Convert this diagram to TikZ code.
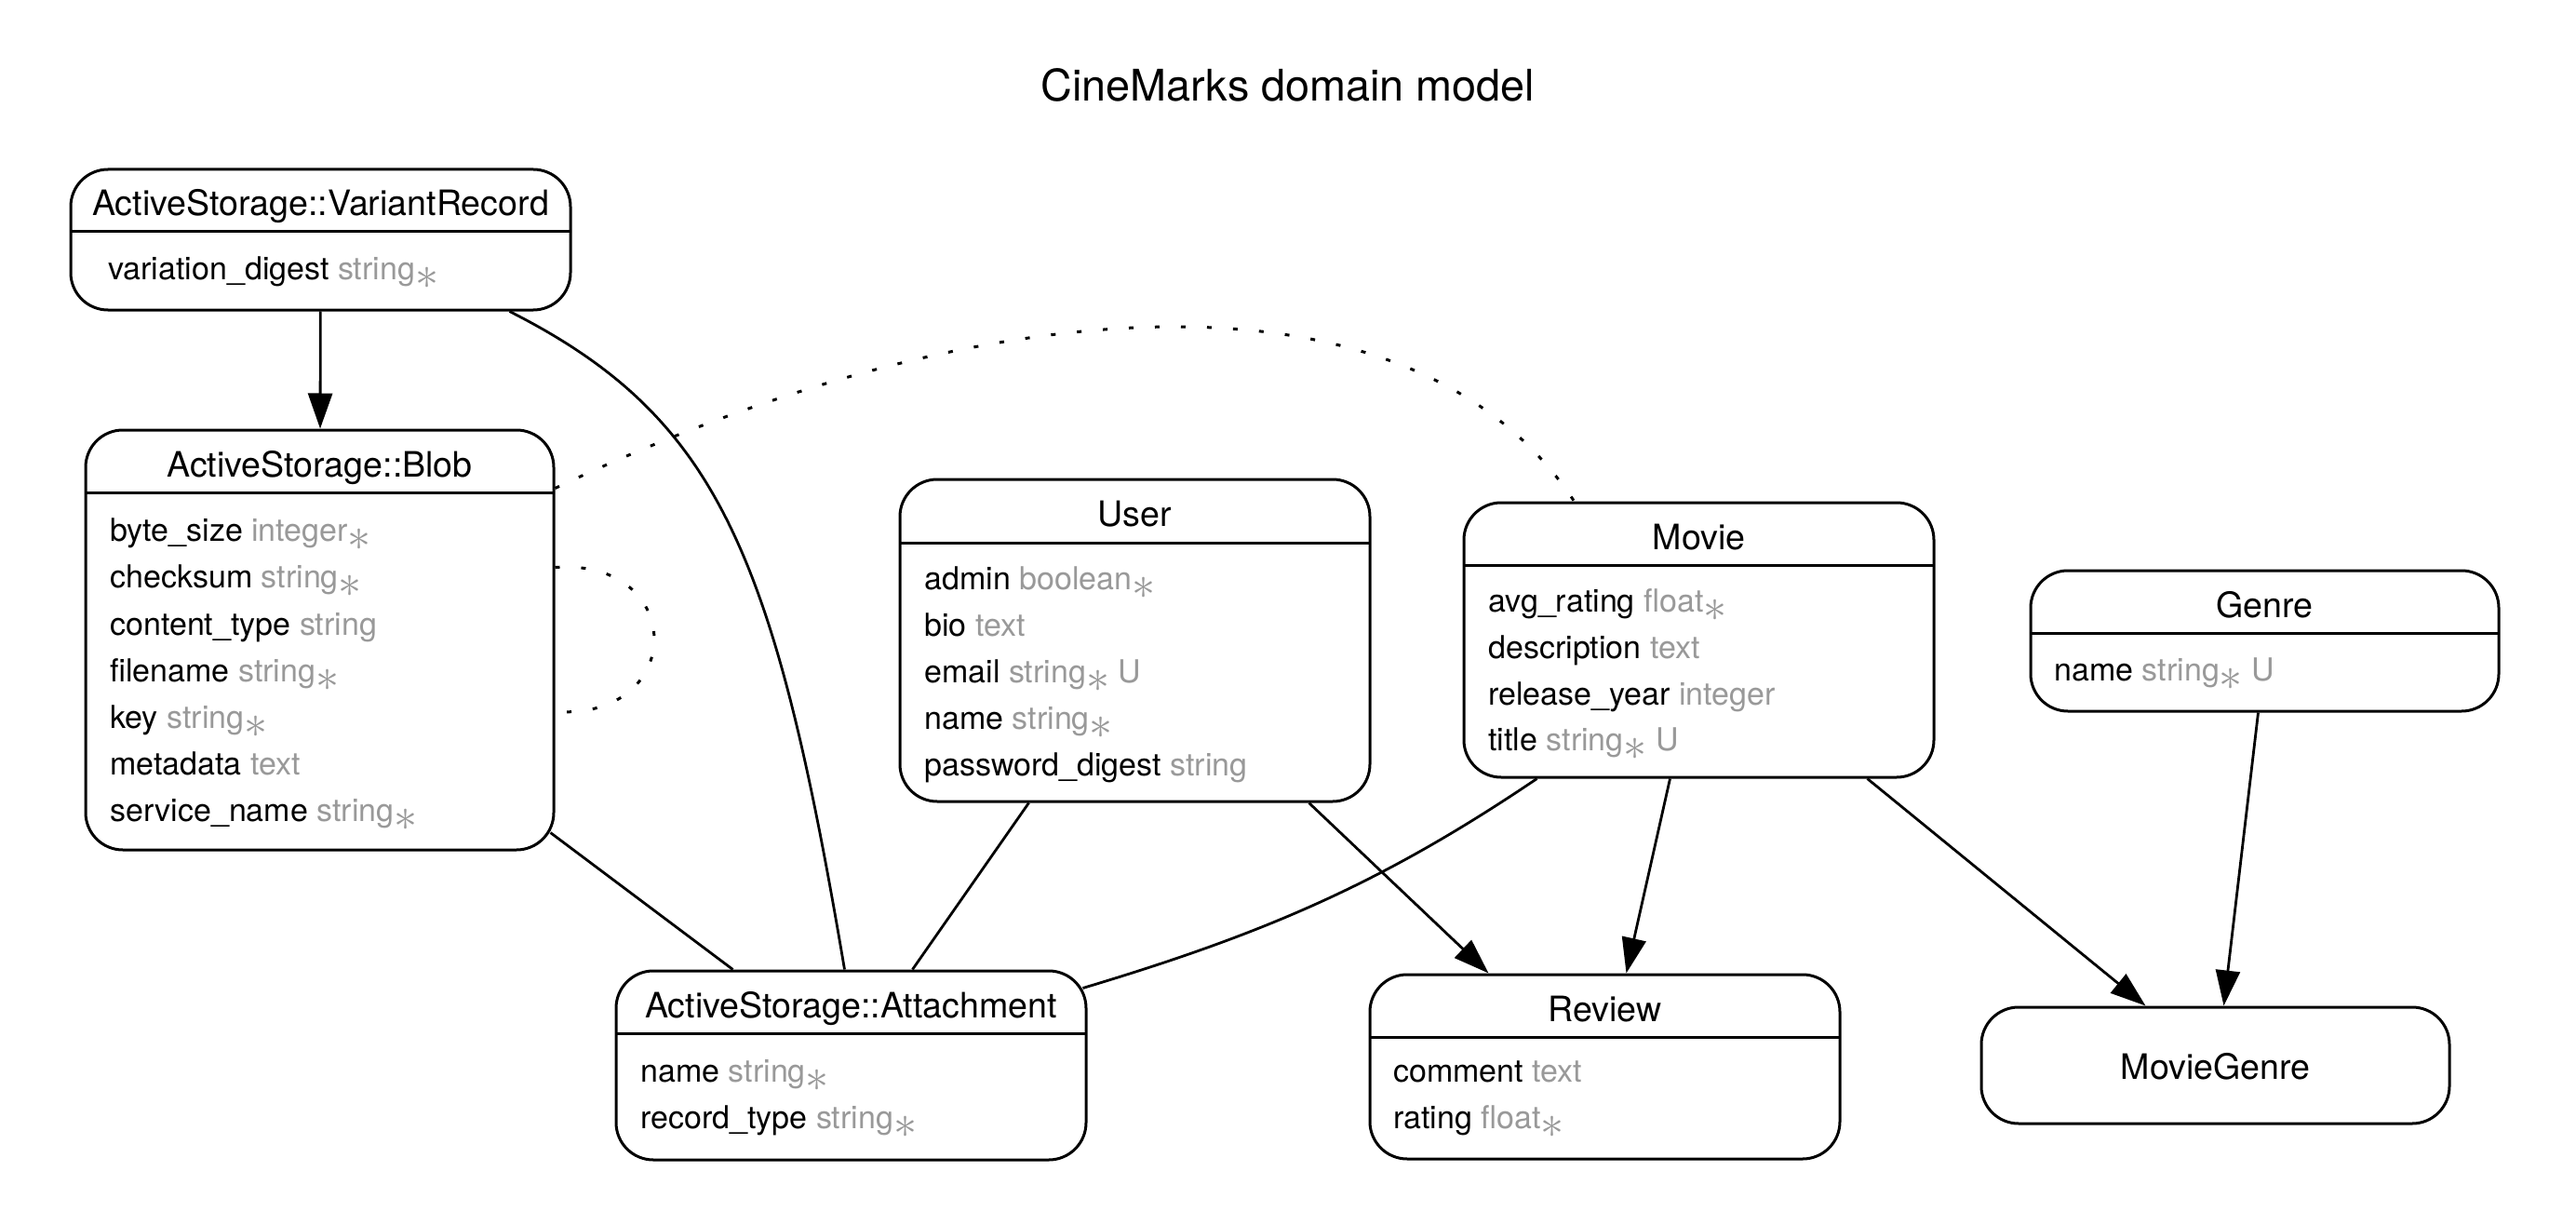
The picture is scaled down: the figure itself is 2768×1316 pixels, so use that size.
\documentclass[tikz,border=0pt]{standalone}
\usepackage{fontspec}
\usepackage{graphicx}
\setmainfont{TeX Gyre Heros}
\usetikzlibrary{arrows.meta,calc,fit}
\definecolor{typegray}{RGB}{153,153,153}
\newcommand{\ty}[1]{\textcolor{typegray}{#1}}
\newcommand{\reqd}{\raisebox{-0.6ex}{\scalebox{1.45}{$\ast$}}}
\tikzset{
  entity/.style={draw, line width=1.5pt, rounded corners=20pt, inner sep=0pt},
  ttl/.style={anchor=base, font=\fontsize{18.8}{22}\selectfont, inner sep=0pt},
  attr/.style={anchor=base west, font=\fontsize{17}{20}\selectfont, inner sep=0pt},
  sepline/.style={line width=1.5pt},
  rel/.style={line width=1.4pt},
  arr/.style={rel, -{Triangle[length=19pt,width=13pt]}},
  dots/.style={line width=1.5pt, dash pattern=on 2.5pt off 11.5pt}
}
\begin{document}
\begin{tikzpicture}[x=0.5pt,y=-0.5pt]
\useasboundingbox[fill=white] (0,0) rectangle (2768,1316);

\node[anchor=base, font=\fontsize{23.4}{28}\selectfont, inner sep=0pt] (title) at (1384,109) {CineMarks domain model};

% ActiveStorage::VariantRecord
\node[entity, fit={(76,182) (613,333)}] (vr) {};
\draw[sepline] (76,249) -- (613,249);
\node[ttl] (vr-t) at (344.5,232) {ActiveStorage::VariantRecord};
\node[attr] (vr-a1) at (116,300) {variation\_digest \ty{string\reqd}};

% ActiveStorage::Blob
\node[entity, fit={(92,462) (595,913)}] (blob) {};
\draw[sepline] (92,529) -- (595,529);
\node[ttl] (blob-t) at (343.5,512) {ActiveStorage::Blob};
\node[attr] (blob-a1) at (118,581) {byte\_size \ty{integer\reqd}};
\node[attr] (blob-a2) at (118,631) {checksum \ty{string\reqd}};
\node[attr] (blob-a3) at (118,682) {content\_type \ty{string}};
\node[attr] (blob-a4) at (118,732) {filename \ty{string\reqd}};
\node[attr] (blob-a5) at (118,782) {key \ty{string\reqd}};
\node[attr] (blob-a6) at (118,832) {metadata \ty{text}};
\node[attr] (blob-a7) at (118,882) {service\_name \ty{string\reqd}};

% User
\node[entity, fit={(967,515) (1472,861)}] (user) {};
\draw[sepline] (967,583) -- (1472,583);
\node[ttl] (user-t) at (1219.5,565) {User};
\node[attr] (user-a1) at (993,633) {admin \ty{boolean\reqd}};
\node[attr] (user-a2) at (993,683) {bio \ty{text}};
\node[attr] (user-a3) at (993,733) {email \ty{string\reqd{} U}};
\node[attr] (user-a4) at (993,783) {name \ty{string\reqd}};
\node[attr] (user-a5) at (993,833) {password\_digest \ty{string}};

% Movie
\node[entity, fit={(1573,540) (2078,835)}] (movie) {};
\draw[sepline] (1573,607) -- (2078,607);
\node[ttl] (movie-t) at (1825.5,590) {Movie};
\node[attr] (movie-a1) at (1599,657) {avg\_rating \ty{float\reqd}};
\node[attr] (movie-a2) at (1599,707) {description \ty{text}};
\node[attr] (movie-a3) at (1599,757) {release\_year \ty{integer}};
\node[attr] (movie-a4) at (1599,806) {title \ty{string\reqd{} U}};

% Genre
\node[entity, fit={(2182,613) (2685,764)}] (genre) {};
\draw[sepline] (2182,680) -- (2685,680);
\node[ttl] (genre-t) at (2433.5,663) {Genre};
\node[attr] (genre-a1) at (2207,731) {name \ty{string\reqd{} U}};

% ActiveStorage::Attachment
\node[entity, fit={(662,1043) (1167,1246)}] (att) {};
\draw[sepline] (662,1110) -- (1167,1110);
\node[ttl] (att-t) at (914.5,1093) {ActiveStorage::Attachment};
\node[attr] (att-a1) at (688,1162) {name \ty{string\reqd}};
\node[attr] (att-a2) at (688,1212) {record\_type \ty{string\reqd}};

% Review
\node[entity, fit={(1472,1047) (1977,1245)}] (review) {};
\draw[sepline] (1472,1114) -- (1977,1114);
\node[ttl] (review-t) at (1724.5,1097) {Review};
\node[attr] (review-a1) at (1497,1162) {comment \ty{text}};
\node[attr] (review-a2) at (1497,1212) {rating \ty{float\reqd}};

% MovieGenre
\node[entity, fit={(2129,1082) (2632,1207)}] (mg) {};
\node[ttl] (mg-t) at (2380.5,1159) {MovieGenre};

% connectors
\draw[arr] (vr) -- (blob);
\draw[rel] ($(vr.south)+(203,0)$) .. controls ($(vr.south)+(426,113)$) and ($(att.north)+(-83,-450)$) .. ($(att.north)+(-7,0)$);
\draw[dots] ($(blob.north east)+(0,64)$) .. controls ($(blob.north east)+(455,-151)$) and ($(movie.north)+(-310,-266)$) .. ($(movie.north)+(-134,0)$);
\draw[dots] ($(blob.east)+(0,-78)$) .. controls ($(blob.east)+(142,-88)$) and ($(blob.east)+(142,86)$) .. ($(blob.east)+(0,77)$);
\draw[rel] ($(blob.south east)+(-5,-20)$) -- ($(att.north)+(-127,0)$);
\draw[rel] ($(user.south)+(-114,0)$) -- ($(att.north)+(66,0)$);
\draw[arr] ($(user.south)+(187,0)$) -- ($(review.north)+(-125,0)$);
\draw[rel] ($(movie.south)+(-174,0)$) .. controls ($(movie.south)+(-340,112)$) and ($(att.north east)+(192,-39)$) .. ($(att.north east)+(-5,20)$);
\draw[arr] ($(movie.south)+(-31,0)$) -- ($(review.north)+(23,0)$);
\draw[arr] ($(movie.south)+(181,0)$) -- ($(mg.north)+(-75,0)$);
\draw[arr] ($(genre.south)+(-7,0)$) -- ($(mg.north)+(9,0)$);
\end{tikzpicture}
\end{document}
